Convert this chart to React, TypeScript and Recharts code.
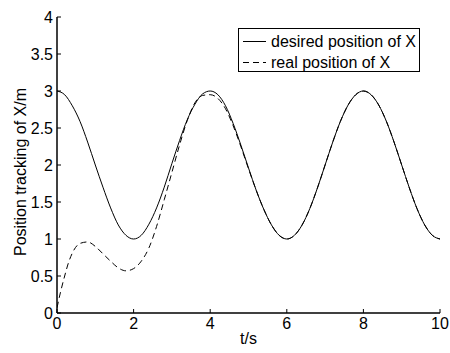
import React from "react";
import { LineChart, Line, XAxis, YAxis, Legend } from "recharts";

// time samples (s)
const tDesired = [
  0, 0.2, 0.4, 0.6, 0.8, 1, 1.2, 1.4, 1.6, 1.8, 2, 2.2, 2.4, 2.6, 2.8, 3, 3.2, 3.4, 3.6, 3.8, 4,
  4.2, 4.4, 4.6, 4.8, 5, 5.2, 5.4, 5.6, 5.8, 6, 6.2, 6.4, 6.6, 6.8, 7, 7.2, 7.4, 7.6, 7.8, 8,
  8.2, 8.4, 8.6, 8.8, 9, 9.2, 9.4, 9.6, 9.8, 10,
];
const xDesired = [
  3.0, 2.95, 2.8, 2.59, 2.31, 2.0, 1.7, 1.42, 1.19, 1.05, 1.0, 1.05, 1.2, 1.42, 1.7, 2.02, 2.33,
  2.61, 2.82, 2.96, 3.0, 2.95, 2.8, 2.56, 2.27, 1.96, 1.66, 1.4, 1.19, 1.05, 1.0, 1.05, 1.19,
  1.41, 1.69, 2.0, 2.31, 2.59, 2.81, 2.95, 3.0, 2.95, 2.81, 2.59, 2.31, 2.0, 1.69, 1.41, 1.19,
  1.05, 1.0,
];

const tReal = [
  0, 0.1, 0.2, 0.3, 0.4, 0.6, 0.8, 1, 1.2, 1.4, 1.6, 1.8, 2, 2.2, 2.4, 2.6, 2.8, 3, 3.2, 3.4,
  3.6, 3.8, 4, 4.2, 4.4, 4.6, 4.8, 5, 5.2, 5.4, 5.6, 5.8, 6, 6.2, 6.4, 6.6, 6.8, 7, 7.2, 7.4,
  7.6, 7.8, 8, 8.2, 8.4, 8.6, 8.8, 9, 9.2, 9.4, 9.6, 9.8, 10,
];
const xReal = [
  0.07, 0.3, 0.5, 0.68, 0.81, 0.94, 0.96, 0.9, 0.8, 0.7, 0.61, 0.57, 0.6, 0.7, 0.88, 1.17,
  1.53, 1.9, 2.27, 2.6, 2.84, 2.94, 2.95, 2.9, 2.76, 2.53, 2.25, 1.95, 1.66, 1.4, 1.19, 1.05,
  1.0, 1.05, 1.19, 1.41, 1.69, 2.0, 2.31, 2.59, 2.81, 2.95, 3.0, 2.95, 2.81, 2.59, 2.31, 2.0,
  1.69, 1.41, 1.19, 1.05, 1.0,
];

const xTicks = [0, 2, 4, 6, 8, 10];
const yTicks = [0, 0.5, 1, 1.5, 2, 2.5, 3, 3.5, 4];

const desired = tDesired.map((t, i) => ({ t, v: xDesired[i] }));
const real = tReal.map((t, i) => ({ t, v: xReal[i] }));

const FONT = "'Liberation Sans', Arial, sans-serif";
const tickStyle = { fill: "#000", fontSize: 16, fontFamily: FONT };
const axisLine = { stroke: "#000", strokeWidth: 1.5 };
const tickLine = { stroke: "#000", strokeWidth: 1 };

const renderLegend = () => (
  <div
    style={{
      width: 182,
      height: 44,
      boxSizing: "border-box",
      border: "1px solid #000",
      background: "#fff",
      padding: "2px 0 0 4px",
      fontFamily: FONT,
      fontSize: 16,
      color: "#000",
    }}
  >
    {[
      { name: "desired position of X", dash: undefined },
      { name: "real position of X", dash: "6 4" },
    ].map((e) => (
      <div key={e.name} style={{ display: "flex", alignItems: "center", height: 21 }}>
        <svg width={24} height={21} style={{ marginRight: 4 }}>
          <line x1={0} y1={10.5} x2={23} y2={10.5} stroke="#000" strokeDasharray={e.dash} />
        </svg>
        <span style={{ lineHeight: "21px" }}>{e.name}</span>
      </div>
    ))}
  </div>
);

export default function App() {
  return (
    <div style={{ position: "absolute", left: 0, top: 0, background: "#fff" }}>
      <LineChart
        width={450}
        height={353}
        margin={{ top: 17, right: 10, bottom: 0, left: 0 }}
      >
        <XAxis
          dataKey="t"
          type="number"
          domain={[0, 10]}
          ticks={xTicks}
          allowDataOverflow
          height={40}
          tickSize={-4}
          tickMargin={9}
          tick={tickStyle}
          axisLine={axisLine}
          tickLine={tickLine}
          label={{
            content: (p: any) => (
              <text
                x={p.viewBox.x + p.viewBox.width / 2}
                y={344}
                textAnchor="middle"
                style={tickStyle}
              >
                t/s
              </text>
            ),
          }}
        />
        <XAxis
          xAxisId="top"
          orientation="top"
          type="number"
          domain={[0, 10]}
          ticks={xTicks}
          allowDataOverflow
          height={0}
          tickSize={-4}
          tick={false}
          axisLine={axisLine}
          tickLine={tickLine}
        />
        <YAxis
          type="number"
          domain={[0, 4]}
          ticks={yTicks}
          allowDataOverflow
          width={57}
          tickSize={-4}
          tickMargin={8}
          tick={tickStyle}
          axisLine={axisLine}
          tickLine={tickLine}
          label={{
            content: (p: any) => {
              const cy = p.viewBox.y + p.viewBox.height / 2 + 7;
              return (
                <text
                  x={26}
                  y={cy}
                  transform={`rotate(-90, 26, ${cy})`}
                  textAnchor="middle"
                  style={tickStyle}
                >
                  Position tracking of X/m
                </text>
              );
            },
          }}
        />
        <YAxis
          yAxisId="right"
          orientation="right"
          type="number"
          domain={[0, 4]}
          ticks={yTicks}
          allowDataOverflow
          width={0}
          tickSize={-4}
          tick={false}
          axisLine={axisLine}
          tickLine={tickLine}
        />
        <Legend
          layout="vertical"
          align="center"
          verticalAlign="middle"
          content={renderLegend}
          wrapperStyle={{ left: 238, top: 28, width: 182 }}
        />
        <Line
          data={desired}
          dataKey="v"
          name="desired position of X"
          type="monotone"
          stroke="#000"
          strokeWidth={1}
          dot={false}
          isAnimationActive={false}
        />
        <Line
          data={real}
          dataKey="v"
          name="real position of X"
          type="monotone"
          stroke="#000"
          strokeWidth={1}
          strokeDasharray="6 4"
          dot={false}
          isAnimationActive={false}
        />
      </LineChart>
    </div>
  );
}
